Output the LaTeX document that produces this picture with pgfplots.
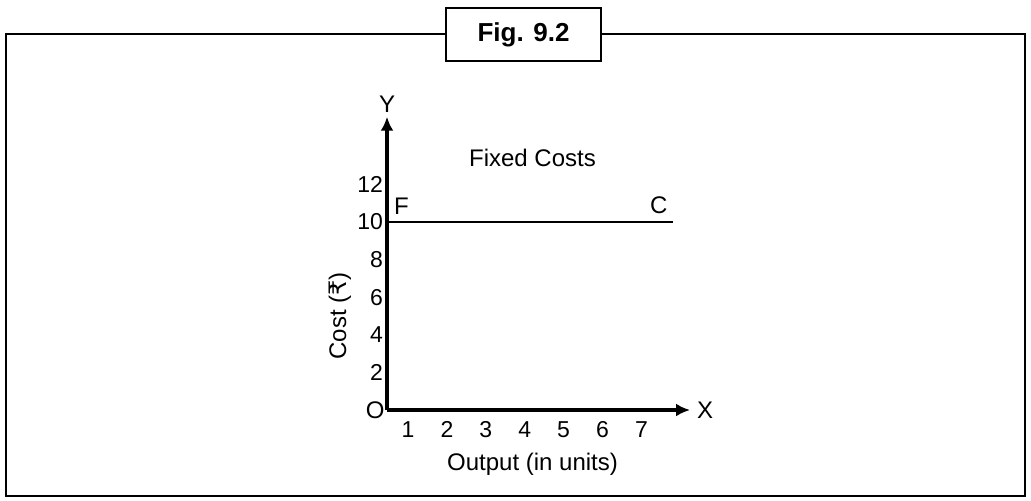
\documentclass[border=0pt]{standalone}
\usepackage{pgfplots}
\pgfplotsset{compat=1.18}
\usepackage{fontspec}
\setmainfont{Liberation Sans}
\newfontfamily\rupee{DejaVu Sans}
\usetikzlibrary{arrows.meta}
\begin{document}
\begin{tikzpicture}
% page = 1031 x 500 px, 1 px = 0.5pt
\path[use as bounding box] (0,0) rectangle (515.5pt,-250pt);
% outer frame
\draw[line width=1.1pt] (3pt,-17pt) rectangle (512.5pt,-248pt);
% figure tag
\draw[line width=1.1pt, fill=white] (223pt,-4pt) rectangle (300.5pt,-30.5pt);
\node[font=\bfseries\fontsize{13}{15}\selectfont] at (261.75pt,-17.5pt) {Fig. 9.2};
\begin{axis}[
    at={(193.5pt,-205pt)}, anchor=south west,
    scale only axis,
    x=19.45pt, y=9.4pt,
    xmin=0.46, xmax=8.25,
    ymin=0, ymax=15.6,
    axis x line=bottom, axis y line=left,
    axis line style={line width=1.6pt, -{Latex[length=7pt,width=6.5pt]}},
    xtick={1,...,7}, ytick={2,4,...,12},
    major tick length=0pt,
    tick label style={font=\fontsize{11.5}{13}\selectfont},
    xticklabel style={text height=8.5pt, text depth=0pt, yshift=-1.5pt},
    yticklabel style={xshift=1.5pt},
    /pgf/number format/assume math mode=true,
    clip=false,
  ]
\addplot[black, line width=1.3pt] coordinates {(0.46,10) (7.82,10)};
\node[font=\fontsize{12}{14}\selectfont] at (axis cs:4.2,13.4) {Fixed Costs};
\node[font=\fontsize{12}{14}\selectfont, anchor=south west] at (axis cs:0.46,10.05) {F};
\node[font=\fontsize{12}{14}\selectfont, anchor=south east] at (axis cs:7.85,10.05) {C};
\node[font=\fontsize{12}{14}\selectfont, anchor=east, inner sep=1pt] at (axis cs:0.46,0) {O};
\node[font=\fontsize{12}{14}\selectfont, anchor=west] at (axis cs:8.25,0) {X};
\node[font=\fontsize{12}{14}\selectfont, anchor=south, inner sep=1pt] at (axis cs:0.46,15.7) {Y};
\node[font=\fontsize{12}{14}\selectfont] at (axis cs:4.2,-2.9) {Output (in units)};
\node[font=\fontsize{12}{14}\selectfont, rotate=90] at (axis cs:-0.75,5.0) {Cost ({\rupee ₹})};
\end{axis}
\end{tikzpicture}
\end{document}
